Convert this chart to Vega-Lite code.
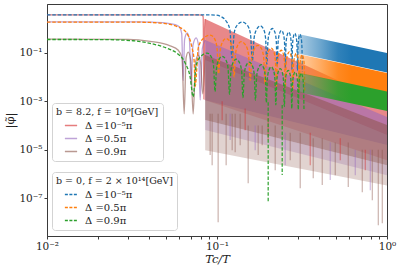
{
"$schema": "https://vega.github.io/schema/vega-lite/v6.json",
"width": 340, "height": 232,
"autosize": {"type": "none"},
"padding": {"left": 47, "top": 4, "right": 12, "bottom": 34},
"background": "white",
"datasets": {
"solidLines": [
{"s":"a","x":0.01,"top":3.55},{"s":"a","x":0.078,"top":3.55},{"s":"a","x":0.0815,"top":3.45},{"s":"a","x":0.0829,"top":3.0},{"s":"a","x":0.0838,"top":0.0012},{"s":"a","x":0.0845,"top":0.8},{"s":"a","x":0.0852,"top":2.41},
{"s":"b","x":0.01,"top":1.84},{"s":"b","x":0.035,"top":1.83},{"s":"b","x":0.0404,"top":1.79},{"s":"b","x":0.0495,"top":1.66},{"s":"b","x":0.0567,"top":1.42},{"s":"b","x":0.0603,"top":1.1},{"s":"b","x":0.062,"top":0.6},{"s":"b","x":0.0632,"top":0.007},{"s":"b","x":0.0645,"top":0.35},{"s":"b","x":0.0667,"top":0.64},{"s":"b","x":0.0688,"top":0.35},{"s":"b","x":0.0705,"top":0.0046},{"s":"b","x":0.0722,"top":0.2},{"s":"b","x":0.0754,"top":0.4},{"s":"b","x":0.0778,"top":0.2},{"s":"b","x":0.0796,"top":0.0011},{"s":"b","x":0.082,"top":0.15},{"s":"b","x":0.0852,"top":0.328},
{"s":"c","x":0.01,"top":0.355},{"s":"c","x":0.03,"top":0.35},{"s":"c","x":0.0404,"top":0.29},{"s":"c","x":0.053,"top":0.19},{"s":"c","x":0.059,"top":0.127},{"s":"c","x":0.0623,"top":0.06},{"s":"c","x":0.0641,"top":0.0003},{"s":"c","x":0.0658,"top":0.06},{"s":"c","x":0.0677,"top":0.105},{"s":"c","x":0.07,"top":0.05},{"s":"c","x":0.0724,"top":0.0003},{"s":"c","x":0.0748,"top":0.04},{"s":"c","x":0.0775,"top":0.079},{"s":"c","x":0.08,"top":0.04},{"s":"c","x":0.0825,"top":0.002},{"s":"c","x":0.0852,"top":0.079}
],
"solidBands": [
{"s":"a","t":"core","x":0.0852,"top":2.41,"bot":0.0492},{"s":"a","t":"core","x":1,"top":0.00083,"bot":0.00004},
{"s":"a","t":"fringe","x":0.0852,"top":0.0492,"bot":0.0011},{"s":"a","t":"fringe","x":1,"top":0.00004,"bot":0.0000037},
{"s":"b","t":"core","x":0.0852,"top":0.328,"bot":0.0011},{"s":"b","t":"core","x":1,"top":0.00022,"bot":0.0000155},
{"s":"b","t":"fringe","x":0.0852,"top":0.0011,"bot":0.000065},{"s":"b","t":"fringe","x":1,"top":0.0000155,"bot":8.9e-7},
{"s":"c","t":"core","x":0.0852,"top":0.079,"bot":0.000166},{"s":"c","t":"core","x":1,"top":0.000103,"bot":0.0000023},
{"s":"c","t":"fringe","x":0.0852,"top":0.000166,"bot":0.0000095},{"s":"c","t":"fringe","x":1,"top":0.0000023,"bot":3.4e-7}
],
"solidSpikes": [
{"s":"c","x":0.09114,"top":0.0003,"bot":6.0e-6},{"s":"c","x":0.09364,"top":0.0003,"bot":2.3e-6},{"s":"c","x":0.10157,"top":0.0003,"bot":1.03e-8},{"s":"c","x":0.1132,"top":0.0003,"bot":2.3e-6},{"s":"c","x":0.1228,"top":0.0003,"bot":9.6e-6},{"s":"c","x":0.1279,"top":0.0003,"bot":7.9e-6},{"s":"c","x":0.13687,"top":0.0003,"bot":1.54e-5},{"s":"c","x":0.15255,"top":0.0001,"bot":4.2e-7},{"s":"c","x":0.17468,"top":0.0001,"bot":6.0e-6},{"s":"c","x":0.18442,"top":0.0001,"bot":1.54e-5},{"s":"c","x":0.21998,"top":0.0001,"bot":1.44e-6},{"s":"c","x":0.26958,"top":0.00005,"bot":3.7e-6},{"s":"c","x":0.3087,"top":0.00005,"bot":2.6e-7},{"s":"c","x":0.3682,"top":0.00003,"bot":6.7e-7},{"s":"c","x":0.41599,"top":0.00003,"bot":3.5e-7},{"s":"c","x":0.49617,"top":0.00002,"bot":8.9e-7},{"s":"c","x":0.59178,"top":0.00002,"bot":2.9e-7},{"s":"c","x":0.71545,"top":0.00001,"bot":1.78e-7},{"s":"c","x":0.81941,"top":0.00001,"bot":8.3e-8},{"s":"c","x":0.88884,"top":0.00001,"bot":7.8e-9},{"s":"c","x":0.93834,"top":0.00001,"bot":9.4e-9},
{"s":"b","x":0.11951,"top":0.0003,"bot":2.5e-5},{"s":"b","x":0.16773,"top":0.0001,"bot":9.6e-6},{"s":"b","x":0.2519,"top":0.00005,"bot":2.3e-6},{"s":"b","x":0.46366,"top":0.00002,"bot":5.6e-7},{"s":"b","x":0.65069,"top":0.00001,"bot":8.9e-7},{"s":"b","x":0.79749,"top":0.00001,"bot":2.15e-7},
{"s":"a","x":0.10723,"top":0.001,"bot":0.000165},{"s":"a","x":0.14647,"top":0.0005,"bot":0.000064},{"s":"a","x":0.2,"top":0.0002,"bot":0.000025},{"s":"a","x":0.35353,"top":0.00005,"bot":2.3e-6},{"s":"a","x":0.53096,"top":0.00003,"bot":3.7e-6},{"s":"a","x":0.74519,"top":0.00001,"bot":1.44e-6}
],
"dashLines": [
{"s":"a","x":0.01,"top":3.55},{"s":"a","x":0.09,"top":3.55},{"s":"a","x":0.098,"top":3.5},{"s":"a","x":0.106,"top":3.0},{"s":"a","x":0.113,"top":2.0},{"s":"a","x":0.119,"top":0.9},{"s":"a","x":0.1225,"top":0.06},{"s":"a","x":0.1265,"top":0.7},{"s":"a","x":0.132,"top":1.4},{"s":"a","x":0.14071,"top":1.81},{"s":"a","x":0.15141,"top":1.28},{"s":"a","x":0.15748,"top":0.56},{"s":"a","x":0.1614,"top":0.045},{"s":"a","x":0.16523,"top":0.387},{"s":"a","x":0.17081,"top":0.886},{"s":"a","x":0.17972,"top":1.253},{"s":"a","x":0.18822,"top":0.886},{"s":"a","x":0.19313,"top":0.387},{"s":"a","x":0.19634,"top":0.033},{"s":"a","x":0.1995,"top":0.303},{"s":"a","x":0.20414,"top":0.694},{"s":"a","x":0.21166,"top":0.981},{"s":"a","x":0.21892,"top":0.694},{"s":"a","x":0.22316,"top":0.303},{"s":"a","x":0.22594,"top":0.027},{"s":"a","x":0.22869,"top":0.252},{"s":"a","x":0.23276,"top":0.576},{"s":"a","x":0.23937,"top":0.815},{"s":"a","x":0.24581,"top":0.576},{"s":"a","x":0.2496,"top":0.252},{"s":"a","x":0.25209,"top":0.023},{"s":"a","x":0.25456,"top":0.217},{"s":"a","x":0.25822,"top":0.497},{"s":"a","x":0.2642,"top":0.703},{"s":"a","x":0.27005,"top":0.497},{"s":"a","x":0.2735,"top":0.217},{"s":"a","x":0.27577,"top":0.02},{"s":"a","x":0.27803,"top":0.192},{"s":"a","x":0.28138,"top":0.439},{"s":"a","x":0.28688,"top":0.621},{"s":"a","x":0.29228,"top":0.439},{"s":"a","x":0.29547,"top":0.192},{"s":"a","x":0.29757,"top":0.018},{"s":"a","x":0.29967,"top":0.173},{"s":"a","x":0.30278,"top":0.395},{"s":"a","x":0.3079,"top":0.559},{"s":"a","x":0.31293,"top":0.395},{"s":"a","x":0.31591,"top":0.173},{"s":"a","x":0.31788,"top":0.016},
{"s":"b","x":0.01,"top":1.81},{"s":"b","x":0.03,"top":1.8},{"s":"b","x":0.0404,"top":1.74},{"s":"b","x":0.0463,"top":1.64},{"s":"b","x":0.053,"top":1.45},{"s":"b","x":0.0583,"top":1.18},{"s":"b","x":0.0632,"top":0.9},{"s":"b","x":0.0667,"top":0.6},{"s":"b","x":0.0695,"top":0.32},{"s":"b","x":0.0714,"top":0.15},{"s":"b","x":0.0733,"top":0.05},{"s":"b","x":0.0744,"top":0.004},{"s":"b","x":0.0777,"top":0.163},{"s":"b","x":0.0828,"top":0.373},{"s":"b","x":0.09114,"top":0.527},{"s":"b","x":0.09666,"top":0.373},{"s":"b","x":0.09996,"top":0.163},{"s":"b","x":0.10217,"top":0.0135},{"s":"b","x":0.10438,"top":0.118},{"s":"b","x":0.10769,"top":0.269},{"s":"b","x":0.1132,"top":0.381},{"s":"b","x":0.11958,"top":0.269},{"s":"b","x":0.12341,"top":0.118},{"s":"b","x":0.12597,"top":0.01},{"s":"b","x":0.12852,"top":0.0868},{"s":"b","x":0.13235,"top":0.199},{"s":"b","x":0.13873,"top":0.281},{"s":"b","x":0.14772,"top":0.199},{"s":"b","x":0.15312,"top":0.0868},{"s":"b","x":0.15672,"top":0.0072},{"s":"b","x":0.16031,"top":0.0615},{"s":"b","x":0.16571,"top":0.1407},{"s":"b","x":0.1747,"top":0.199},{"s":"b","x":0.18313,"top":0.1407},{"s":"b","x":0.18818,"top":0.0615},{"s":"b","x":0.19156,"top":0.0053},{"s":"b","x":0.19493,"top":0.0472},{"s":"b","x":0.19998,"top":0.1079},{"s":"b","x":0.20841,"top":0.1526},{"s":"b","x":0.21595,"top":0.1079},{"s":"b","x":0.22048,"top":0.0472},{"s":"b","x":0.2235,"top":0.0041},{"s":"b","x":0.22651,"top":0.0385},{"s":"b","x":0.23104,"top":0.088},{"s":"b","x":0.23858,"top":0.1245},{"s":"b","x":0.24543,"top":0.088},{"s":"b","x":0.24954,"top":0.0385},{"s":"b","x":0.25229,"top":0.0035},{"s":"b","x":0.25503,"top":0.0327},{"s":"b","x":0.25914,"top":0.0748},{"s":"b","x":0.26599,"top":0.1058},{"s":"b","x":0.2726,"top":0.0748},{"s":"b","x":0.27656,"top":0.0327},{"s":"b","x":0.27921,"top":0.003},{"s":"b","x":0.28185,"top":0.0283},{"s":"b","x":0.28581,"top":0.0648},{"s":"b","x":0.29242,"top":0.0917},{"s":"b","x":0.29861,"top":0.0648},{"s":"b","x":0.30233,"top":0.0283},{"s":"b","x":0.30481,"top":0.0026},{"s":"b","x":0.30728,"top":0.0251},{"s":"b","x":0.311,"top":0.0574},{"s":"b","x":0.31719,"top":0.0812},{"s":"b","x":0.3228,"top":0.0574},{"s":"b","x":0.3262,"top":0.0251},{"s":"b","x":0.328,"top":0.0023},
{"s":"c","x":0.01,"top":0.345},{"s":"c","x":0.0205,"top":0.344},{"s":"c","x":0.0321,"top":0.307},{"s":"c","x":0.0404,"top":0.24},{"s":"c","x":0.0509,"top":0.149},{"s":"c","x":0.0583,"top":0.093},{"s":"c","x":0.065,"top":0.037},{"s":"c","x":0.0695,"top":0.0098},{"s":"c","x":0.0724,"top":0.0015},{"s":"c","x":0.0754,"top":0.0295},{"s":"c","x":0.08,"top":0.0675},{"s":"c","x":0.0875,"top":0.0955},{"s":"c","x":0.09243,"top":0.0675},{"s":"c","x":0.09539,"top":0.0295},{"s":"c","x":0.09737,"top":0.0025},{"s":"c","x":0.09934,"top":0.02175},{"s":"c","x":0.1023,"top":0.0498},{"s":"c","x":0.10723,"top":0.0704},{"s":"c","x":0.11283,"top":0.0498},{"s":"c","x":0.11619,"top":0.02175},{"s":"c","x":0.11844,"top":0.0019},{"s":"c","x":0.12068,"top":0.01638},{"s":"c","x":0.12404,"top":0.03747},{"s":"c","x":0.12964,"top":0.053},{"s":"c","x":0.13589,"top":0.03747},{"s":"c","x":0.13964,"top":0.01638},{"s":"c","x":0.14214,"top":0.0014},{"s":"c","x":0.14463,"top":0.01255},{"s":"c","x":0.14838,"top":0.0287},{"s":"c","x":0.15463,"top":0.0406},{"s":"c","x":0.16146,"top":0.0287},{"s":"c","x":0.16555,"top":0.01255},{"s":"c","x":0.16829,"top":0.0011},{"s":"c","x":0.17102,"top":0.00983},{"s":"c","x":0.17511,"top":0.02248},{"s":"c","x":0.18194,"top":0.0318},{"s":"c","x":0.18855,"top":0.02248},{"s":"c","x":0.19251,"top":0.00983},{"s":"c","x":0.19515,"top":0.00087},{"s":"c","x":0.19779,"top":0.00803},{"s":"c","x":0.20176,"top":0.01838},{"s":"c","x":0.20836,"top":0.026},{"s":"c","x":0.21512,"top":0.01838},{"s":"c","x":0.21918,"top":0.00803},{"s":"c","x":0.22188,"top":0.0007},{"s":"c","x":0.22458,"top":0.00669},{"s":"c","x":0.22864,"top":0.0153},{"s":"c","x":0.2354,"top":0.02164},{"s":"c","x":0.24214,"top":0.0153},{"s":"c","x":0.24618,"top":0.00669},{"s":"c","x":0.24888,"top":0.0006},{"s":"c","x":0.25158,"top":0.00568},{"s":"c","x":0.25562,"top":0.013},{"s":"c","x":0.26236,"top":0.01839},{"s":"c","x":0.26889,"top":0.013},{"s":"c","x":0.27281,"top":0.00568},{"s":"c","x":0.27542,"top":0.0005},{"s":"c","x":0.27803,"top":0.00493},{"s":"c","x":0.28195,"top":0.01128},{"s":"c","x":0.28848,"top":0.01595},{"s":"c","x":0.29459,"top":0.01128},{"s":"c","x":0.29826,"top":0.00493},{"s":"c","x":0.3007,"top":0.00045},{"s":"c","x":0.30314,"top":0.00436},{"s":"c","x":0.30681,"top":0.00998},{"s":"c","x":0.31292,"top":0.01412},{"s":"c","x":0.319,"top":0.00998},{"s":"c","x":0.3227,"top":0.00436},{"s":"c","x":0.3249,"top":0.0004}
],
"bandB": [{"x":0.3,"top":0.581,"bot":0.092},{"x":1,"top":0.0955,"bot":0.0151}],
"bandO": [{"x":0.3,"top":0.0883,"bot":0.014},{"x":1,"top":0.0145,"bot":0.0023}],
"bandG": [{"x":0.3,"top":0.01504,"bot":0.00238},{"x":1,"top":0.00247,"bot":0.00039}],
"dashSpikes": [{"s":"c","x":0.2,"top":0.0009,"bot":6.9e-8},{"s":"c","x":0.2418,"top":0.0007,"bot":9e-7}]
},
"encoding": {
"x": {"field": "x", "type": "quantitative", "scale": {"type": "log", "domain": [0.01, 1]},
 "axis": {"values": [0.01,0.02,0.03,0.04,0.05,0.06,0.07,0.08,0.09,0.1,0.2,0.3,0.4,0.5,0.6,0.7,0.8,0.9,1],
 "labelExpr": "datum.value == 0.01 ? '10⁻²' : datum.value == 0.1 ? '10⁻¹' : datum.value == 1 ? '10⁰' : ''",
 "title": "Tc/T", "titleFontStyle": "italic", "labelFlush": false, "titlePadding": 2}},
"y": {"field": "top", "type": "quantitative", "scale": {"type": "log", "domain": [2.8e-9, 10]},
 "axis": {"values": [1e-7, 1e-5, 0.001, 0.1],
 "labelExpr": "round(log(datum.value)/LN10) == -1 ? '10⁻¹' : round(log(datum.value)/LN10) == -3 ? '10⁻³' : round(log(datum.value)/LN10) == -5 ? '10⁻⁵' : '10⁻⁷'",
 "title": "|φ̃|", "titlePadding": 3}}
},
"layer": [
{
"encoding": {"color": {"field": "s", "type": "nominal", "scale": {"domain": ["a","b","c"], "range": ["#d62728","#9467bd","#8c564b"]},
 "legend": {"title": "b = 8.2, f = 10⁹[GeV]", "legendX": 5, "legendY": 99, "symbolOpacity": 0.6,
 "labelExpr": "datum.label == 'a' ? 'Δ =10⁻⁵π' : datum.label == 'b' ? 'Δ =0.5π' : 'Δ =0.9π'"}}},
"layer": [
{"data": {"name": "solidLines"}, "mark": {"type": "line", "strokeWidth": 1.3, "opacity": 0.6, "interpolate": "monotone", "clip": true}},
{"data": {"name": "solidBands"}, "mark": {"type": "area", "clip": true},
 "encoding": {"y2": {"field": "bot"}, "opacity": {"field": "t", "type": "nominal", "scale": {"domain": ["core","fringe"], "range": [0.55, 0.26]}, "legend": null}}},
{"data": {"name": "solidSpikes"}, "mark": {"type": "rule", "strokeWidth": 1.2, "opacity": 0.45, "clip": true},
 "encoding": {"y2": {"field": "bot"}}}
]
},
{
"layer": [
{"data": {"name": "dashLines"}, "mark": {"type": "line", "strokeWidth": 1.3, "strokeDash": [3.5, 1.8], "interpolate": "monotone", "clip": true},
 "encoding": {"color": {"field": "s", "type": "nominal", "scale": {"domain": ["a","b","c"], "range": ["#1f77b4","#ff7f0e","#2ca02c"]},
 "legend": {"title": "b = 0, f = 2 × 10¹⁴[GeV]", "legendX": 5, "legendY": 168, "symbolDash": [3, 1.5],
 "labelExpr": "datum.label == 'a' ? 'Δ =10⁻⁵π' : datum.label == 'b' ? 'Δ =0.5π' : 'Δ =0.9π'"}}}},
{"data": {"name": "bandB"}, "mark": {"type": "area", "clip": true, "fill": {"gradient": "linear", "x1": 0, "y1": 0, "x2": 1, "y2": 0, "stops": [{"offset": 0, "color": "rgba(31,119,180,0.35)"}, {"offset": 0.25, "color": "rgba(31,119,180,0.65)"}, {"offset": 0.45, "color": "rgba(31,119,180,0.92)"}, {"offset": 0.6, "color": "rgba(31,119,180,1)"}, {"offset": 1, "color": "rgba(31,119,180,1)"}]}},
 "encoding": {"y2": {"field": "bot"}}},
{"data": {"name": "bandO"}, "mark": {"type": "area", "clip": true, "fill": {"gradient": "linear", "x1": 0, "y1": 0, "x2": 1, "y2": 0, "stops": [{"offset": 0, "color": "rgba(255,127,14,0.35)"}, {"offset": 0.25, "color": "rgba(255,127,14,0.65)"}, {"offset": 0.45, "color": "rgba(255,127,14,0.92)"}, {"offset": 0.6, "color": "rgba(255,127,14,1)"}, {"offset": 1, "color": "rgba(255,127,14,1)"}]}},
 "encoding": {"y2": {"field": "bot"}}},
{"data": {"name": "bandG"}, "mark": {"type": "area", "clip": true, "fill": {"gradient": "linear", "x1": 0, "y1": 0, "x2": 1, "y2": 0, "stops": [{"offset": 0, "color": "rgba(44,160,44,0.35)"}, {"offset": 0.25, "color": "rgba(44,160,44,0.65)"}, {"offset": 0.45, "color": "rgba(44,160,44,0.92)"}, {"offset": 0.6, "color": "rgba(44,160,44,1)"}, {"offset": 1, "color": "rgba(44,160,44,1)"}]}},
 "encoding": {"y2": {"field": "bot"}}},
{"data": {"name": "dashSpikes"}, "mark": {"type": "rule", "strokeWidth": 1.2, "strokeDash": [3.5, 1.8], "clip": true},
 "encoding": {"y2": {"field": "bot"}, "color": {"field": "s", "type": "nominal", "scale": {"domain": ["a","b","c"], "range": ["#1f77b4","#ff7f0e","#2ca02c"]},
 "legend": {"title": "b = 0, f = 2 × 10¹⁴[GeV]", "legendX": 5, "legendY": 168, "symbolDash": [3, 1.5],
 "labelExpr": "datum.label == 'a' ? 'Δ =10⁻⁵π' : datum.label == 'b' ? 'Δ =0.5π' : 'Δ =0.9π'"}}}}
]
}
],
"resolve": {"scale": {"color": "independent"}},
"config": {
"view": {"stroke": "#3a3a3a", "strokeWidth": 1},
"axis": {"grid": false, "domainColor": "#3a3a3a", "tickColor": "#3a3a3a", "labelColor": "#222222", "titleColor": "#222222",
 "labelFont": "DejaVu Serif", "titleFont": "DejaVu Serif", "labelFontSize": 10.5, "titleFontSize": 11.5, "titleFontWeight": "normal", "tickSize": 3, "labelPadding": 2},
"legend": {"orient": "none", "titleFont": "DejaVu Serif", "titleFontSize": 9.5, "titleFontWeight": "normal", "titleColor": "#222222",
 "labelFont": "DejaVu Serif", "labelFontSize": 10, "labelColor": "#222222", "symbolType": "stroke", "symbolSize": 150, "symbolStrokeWidth": 1.5,
 "strokeColor": "#d3d3d3", "fillColor": "rgba(255,255,255,0.85)", "padding": 4, "cornerRadius": 3, "rowPadding": 1, "titlePadding": 2, "symbolOffset": 8, "labelOffset": 7}
}
}
